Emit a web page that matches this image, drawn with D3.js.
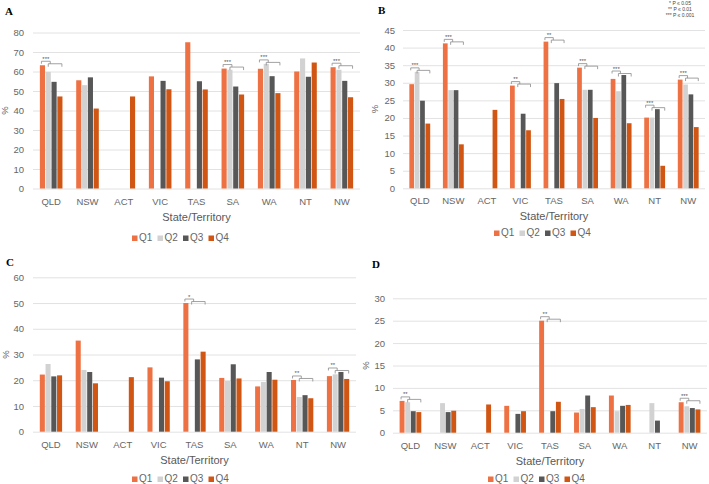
<!DOCTYPE html>
<html>
<head>
<meta charset="utf-8">
<script src="https://cdn.jsdelivr.net/npm/d3@7"></script>
<style>
  body { margin: 0; background: #fff; }
  svg { display: block; font-family: "Liberation Sans", Arial, sans-serif; }
</style>
</head>
<body>
<svg id="chart" width="709" height="484"></svg>
<script>
// states on the x axis, quartiles as the series
let states = ['QLD', 'NSW', 'ACT', 'VIC', 'TAS', 'SA', 'WA', 'NT', 'NW']
let quartiles = ['Q1', 'Q2', 'Q3', 'Q4']

// values per state: [Q1, Q2, Q3, Q4]
let valuesA = [[63.2, 59.8, 54.7, 47.2], [55.5, 53, 57, 41], [0, 0, 0, 47.2], [57.5, 0, 55.2, 50.9],
  [75, 0, 55, 50.8], [61.5, 60.9, 52.3, 48.2], [61.4, 63.9, 57.6, 48.9], [60, 66.7, 57.3, 64.6], [62.2, 60.9, 55.2, 46.8]]
let valuesB = [[29.6, 33.1, 24.9, 18.4], [41.2, 27.9, 27.9, 12.5], [0, 0, 0, 22.3], [29.2, 0, 21.2, 16.5],
  [41.7, 0, 29.9, 25.4], [34.3, 28, 28, 20], [31.1, 27.6, 32.2, 18.5], [20.1, 20.1, 22.5, 6.4], [30.9, 29.5, 26.7, 17.4]]
let valuesC = [[22.2, 26.3, 21.5, 21.9], [35.4, 24, 23.2, 18.8], [0, 0, 0, 21.2], [25, 0, 21, 19.6],
  [50, 0, 28.1, 31.1], [20.9, 19.7, 26.2, 20.7], [17.6, 19.3, 23.2, 20.2], [20.1, 13.5, 14.2, 13], [21.6, 22.3, 23.2, 20.5]]
let valuesD = [[7.1, 6.8, 4.8, 4.6], [0, 6.6, 4.6, 4.9], [0, 0, 0, 6.3], [6, 0, 4.2, 4.8],
  [25, 0, 4.8, 6.9], [4.5, 5.3, 8.3, 5.7], [8.3, 4.8, 6, 6.2], [0, 6.6, 2.7, 0], [6.8, 5.9, 5.5, 5.2]]

// significance marks per state
let sigA = ['***', '', '', '', '', '***', '***', '', '***']
let sigB = ['***', '***', '', '**', '**', '***', '***', '***', '***']
let sigC = ['', '', '', '', '*', '', '', '**', '**']
let sigD = ['**', '', '', '', '**', '', '', '', '***']

let yTicksA = [0, 10, 20, 30, 40, 50, 60, 70, 80]
let yTicksB = [0, 5, 10, 15, 20, 25, 30, 35, 40, 45]
let yTicksC = [0, 10, 20, 30, 40, 50, 60]
let yTicksD = [0, 5, 10, 15, 20, 25, 30]

let sigLegend = ['* P \u2264 0.05', '** P \u2264 0.01', '*** P \u2264 0.001']

let colors = {
  'Q1': '#ee7143',
  'Q2': '#d2d2d2',
  'Q3': '#575757',
  'Q4': '#d15613'
}

let svg = d3.select('#chart')

function drawPanel (p) {
  let g = svg.append('g')
  let x = d3.scaleBand()
    .domain(states)
    .range([p.x0, p.x1])
    .paddingInner(0.34)
    .paddingOuter(0.17)
  let xq = d3.scaleBand()
    .domain(quartiles)
    .range([0, x.bandwidth()])
    .padding(0.12)
  let y = d3.scaleLinear()
    .domain([0, d3.max(p.ticks)])
    .range([p.y0, p.y1])

  // gridlines + tick labels
  let yAxis = g.append('g')
    .attr('transform', `translate(${p.x0},0)`)
    .call(d3.axisLeft(y).tickValues(p.ticks).tickSize(-(p.x1 - p.x0)).tickPadding(p.tickPad))
  yAxis.select('.domain').remove()
  yAxis.selectAll('line').attr('stroke', '#e2e2e2')
  yAxis.selectAll('text').attr('fill', '#666').style('font-size', '9.5px')

  // bars
  let groups = g.selectAll('g.state')
    .data(p.values)
    .enter()
    .append('g')
    .attr('class', 'state')
    .attr('transform', (d, i) => `translate(${x(states[i])},0)`)
  groups.selectAll('rect')
    .data((d) => d)
    .enter()
    .append('rect')
    .attr('x', (d, j) => xq(quartiles[j]))
    .attr('y', (d) => y(d))
    .attr('width', xq.bandwidth())
    .attr('height', (d) => y(0) - y(d))
    .attr('fill', (d, j) => colors[quartiles[j]])

  // category labels
  g.selectAll('text.cat')
    .data(states)
    .enter()
    .append('text')
    .attr('class', 'cat')
    .attr('x', (d) => x(d) + x.bandwidth() / 2)
    .attr('y', p.y0 + 16)
    .attr('text-anchor', 'middle')
    .attr('fill', '#666')
    .style('font-size', '9.5px')
    .text((d) => d)

  // significance brackets
  p.sig.forEach((s, i) => {
    if (!s) return
    let bx = x(states[i])
    let top = y(d3.max(p.values[i]))
    let c1 = bx + xq('Q1') + xq.bandwidth() / 2
    let c2 = bx + xq('Q2') + xq.bandwidth() / 2
    let c4 = bx + xq('Q4') + xq.bandwidth() / 2
    let b1 = top - 4
    let b2 = top - 1.5
    g.append('path')
      .attr('d', `M${c1 - 1},${b1 + 2.5}V${b1}H${c2 + 2}V${b1 + 2.5}`)
      .attr('fill', 'none').attr('stroke', '#8a8a8a').attr('stroke-width', 0.8)
    g.append('path')
      .attr('d', `M${c2},${b2 + 3}V${b2}H${c4 + 2}V${b2 + 3}`)
      .attr('fill', 'none').attr('stroke', '#8a8a8a').attr('stroke-width', 0.8)
    g.append('text')
      .attr('x', (c1 + c2) / 2 + 0.5)
      .attr('y', b1 - 0.5)
      .attr('text-anchor', 'middle')
      .attr('fill', '#555')
      .style('font-size', '6px')
      .text(s)
  })

  // axis titles
  g.append('text')
    .attr('transform', `translate(${p.yLabelX},${(p.y0 + p.y1) / 2}) rotate(-90)`)
    .attr('text-anchor', 'middle')
    .attr('fill', '#666')
    .style('font-size', '9.5px')
    .text('%')
  g.append('text')
    .attr('x', (p.x0 + p.x1) / 2)
    .attr('y', p.y0 + 32)
    .attr('text-anchor', 'middle')
    .attr('fill', '#595959')
    .style('font-size', '11px')
    .text('State/Territory')

  // legend
  let leg = g.selectAll('g.leg')
    .data(quartiles)
    .enter()
    .append('g')
    .attr('class', 'leg')
    .attr('transform', (d, i) => `translate(${p.legX + i * 25.5},${p.legY})`)
  leg.append('rect')
    .attr('x', 0).attr('y', -5.5)
    .attr('width', 5.5).attr('height', 5.5)
    .attr('fill', (d) => colors[d])
  leg.append('text')
    .attr('x', 7)
    .attr('y', 0)
    .attr('fill', '#666')
    .style('font-size', '10px')
    .text((d) => d)

  // panel letter
  svg.append('text')
    .attr('x', p.letterX)
    .attr('y', p.letterY)
    .style('font-family', '"Liberation Serif", "DejaVu Serif", serif')
    .style('font-weight', 'bold')
    .style('font-size', '11px')
    .text(p.letter)
}

drawPanel({ letter: 'A', values: valuesA, sig: sigA, ticks: yTicksA,
  x0: 33, x1: 360, y0: 188.5, y1: 32.5, tickPad: 9, yLabelX: 8,
  legX: 132, legY: 241, letterX: 5, letterY: 15 })
drawPanel({ letter: 'B', values: valuesB, sig: sigB, ticks: yTicksB,
  x0: 403, x1: 705, y0: 188.3, y1: 30, tickPad: 8, yLabelX: 378,
  legX: 494, legY: 236, letterX: 378, letterY: 14 })
drawPanel({ letter: 'C', values: valuesC, sig: sigC, ticks: yTicksC,
  x0: 33, x1: 356, y0: 431.7, y1: 277.3, tickPad: 9, yLabelX: 9,
  legX: 132, legY: 482, letterX: 6, letterY: 266 })
drawPanel({ letter: 'D', values: valuesD, sig: sigD, ticks: yTicksD,
  x0: 393, x1: 707, y0: 432.7, y1: 298.3, tickPad: 8, yLabelX: 369,
  legX: 488, legY: 482, letterX: 372, letterY: 268 })

// p-value key, top right
svg.selectAll('text.pkey')
  .data(sigLegend)
  .enter()
  .append('text')
  .attr('class', 'pkey')
  .attr('x', 680)
  .attr('y', (d, i) => 5 + i * 6)
  .attr('text-anchor', 'middle')
  .attr('fill', '#444')
  .style('font-size', '5px')
  .text((d) => d)
</script>
</body>
</html>
